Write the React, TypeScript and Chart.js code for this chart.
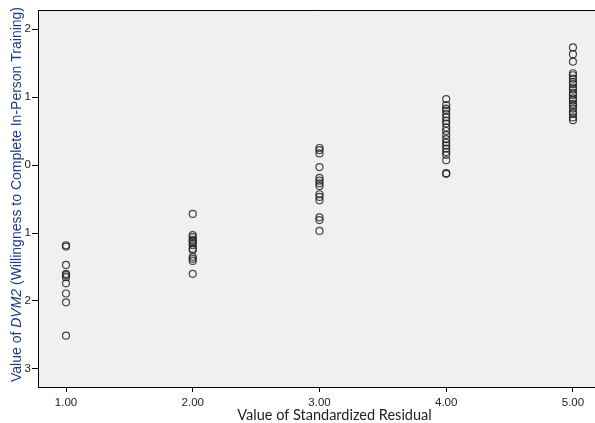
import React, { useEffect, useRef } from "react";
import { Chart, registerables } from "chart.js";

Chart.register(...registerables);

const xCategories = [1, 2, 3, 4, 5];
const group1 = [-1.18, -1.2, -1.47, -1.6, -1.62, -1.65, -1.74, -1.89, -2.02, -2.51];
const group2 = [-0.72, -1.03, -1.06, -1.1, -1.12, -1.15, -1.18, -1.23, -1.25, -1.35, -1.38, -1.41, -1.6];
const group3 = [0.25, 0.22, 0.17, -0.03, -0.19, -0.23, -0.27, -0.31, -0.43, -0.47, -0.52, -0.77, -0.81, -0.97];
const group4 = [0.97, 0.88, 0.83, 0.8, 0.75, 0.7, 0.65, 0.61, 0.55, 0.5, 0.44, 0.38, 0.33, 0.29, 0.24, 0.19, 0.15, 0.07, -0.12, -0.13];
const group5 = [1.73, 1.63, 1.52, 1.35, 1.32, 1.27, 1.22, 1.19, 1.14, 1.11, 1.06, 1.03, 0.98, 0.95, 0.9, 0.87, 0.83, 0.78, 0.75, 0.7, 0.66];
const groups = [group1, group2, group3, group4, group5];
const yTicks = [-3, -2, -1, 0, 1, 2];

const xTitle = "Value of Standardized Residual";
const yTitleParts = [
  { text: "Value of ", italic: false },
  { text: "DVM2", italic: true },
  { text: " (Willingness to Complete In-Person Training)", italic: false },
];

export default function App() {
  const ref = useRef<HTMLCanvasElement>(null);
  useEffect(() => {
    const data: { x: number; y: number }[] = [];
    groups.forEach((g, i) => g.forEach((v) => data.push({ x: xCategories[i], y: v })));

    const bgPlugin = {
      id: "bgPlugin",
      beforeDraw(chart: any) {
        const { ctx, chartArea: a } = chart;
        ctx.save();
        ctx.fillStyle = "#F0F0F0";
        ctx.fillRect(a.left, a.top, a.right - a.left, a.bottom - a.top);
        ctx.strokeStyle = "#000";
        ctx.lineWidth = 1;
        ctx.beginPath();
        ctx.moveTo(a.left, a.top + 0.5);
        ctx.lineTo(a.right, a.top + 0.5);
        ctx.stroke();
        ctx.restore();
      },
      afterDraw(chart: any) {
        const { ctx, chartArea: a } = chart;
        // y-axis title with mixed styles
        ctx.save();
        const size = 14;
        const fam = '"Liberation Sans", Arial, sans-serif';
        let total = 0;
        const widths = yTitleParts.map((p) => {
          ctx.font = `${p.italic ? "italic " : ""}${size}px ${fam}`;
          const w = ctx.measureText(p.text).width;
          total += w;
          return w;
        });
        ctx.translate(17.5, (a.top + a.bottom) / 2 - 4);
        ctx.rotate(-Math.PI / 2);
        ctx.fillStyle = "#1F3C88";
        ctx.textBaseline = "middle";
        ctx.textAlign = "left";
        let x = -total / 2;
        yTitleParts.forEach((p, i) => {
          ctx.font = `${p.italic ? "italic " : ""}${size}px ${fam}`;
          ctx.fillText(p.text, x, 0);
          x += widths[i];
        });
        ctx.restore();
        // x-axis title
        ctx.save();
        ctx.font = "14.5px Lato, sans-serif";
        ctx.fillStyle = "#222";
        ctx.textAlign = "center";
        ctx.textBaseline = "middle";
        ctx.fillText(xTitle, (a.left + a.right) / 2 + 18, a.bottom + 28);
        ctx.restore();
      },
    };

    const chart = new Chart(ref.current!, {
      type: "scatter",
      data: {
        datasets: [
          {
            data,
            pointRadius: 3.5,
            pointHoverRadius: 3.5,
            pointBorderWidth: 1.2,
            pointBackgroundColor: "rgba(0,0,0,0)",
            pointBorderColor: "rgba(25,25,25,0.8)",
          },
        ],
      },
      options: {
        animation: false,
        responsive: false,
        maintainAspectRatio: false,
        layout: { autoPadding: false, padding: { top: 10, left: 0, right: 0, bottom: 0 } },
        plugins: { legend: { display: false }, tooltip: { enabled: false } },
        scales: {
          x: {
            type: "linear",
            min: 0.779,
            max: 5.174,
            afterBuildTicks: (s: any) => {
              s.ticks = xCategories.map((v) => ({ value: v }));
            },
            afterFit: (s: any) => {
              s.height = 36;
              s.paddingLeft = 0;
              s.paddingRight = 0;
            },
            border: { display: true, color: "#000", width: 1 },
            grid: { display: true, drawOnChartArea: false, drawTicks: true, tickLength: 5, color: "#000" },
            ticks: {
              autoSkip: false,
              maxRotation: 0,
              padding: 4,
              color: "#222",
              font: { family: '"Liberation Sans", Arial, sans-serif', size: 11.5 },
              callback: (v: any) => Number(v).toFixed(2),
            },
            title: { display: false, text: xTitle },
          },
          y: {
            type: "linear",
            min: -3.265,
            max: 2.28,
            afterBuildTicks: (s: any) => {
              s.ticks = yTicks.map((v) => ({ value: v }));
            },
            afterFit: (s: any) => {
              s.width = 38;
              s.paddingTop = 0;
              s.paddingBottom = 0;
            },
            border: { display: true, color: "#000", width: 1 },
            grid: { display: true, drawOnChartArea: false, drawTicks: true, tickLength: 6, color: "#000" },
            ticks: {
              padding: 1,
              color: "#222",
              font: { family: '"Liberation Sans", Arial, sans-serif', size: 11.5 },
              callback: (v: any) => String(Math.abs(Number(v))),
            },
          },
        },
      },
      plugins: [bgPlugin],
    } as any);
    return () => chart.destroy();
  }, []);

  return (
    <div style={{ position: "fixed", left: 0, top: 0, width: 595, height: 423, background: "#fff" }}>
      <canvas ref={ref} width={595} height={423} style={{ width: 595, height: 423, display: "block" }} />
    </div>
  );
}
